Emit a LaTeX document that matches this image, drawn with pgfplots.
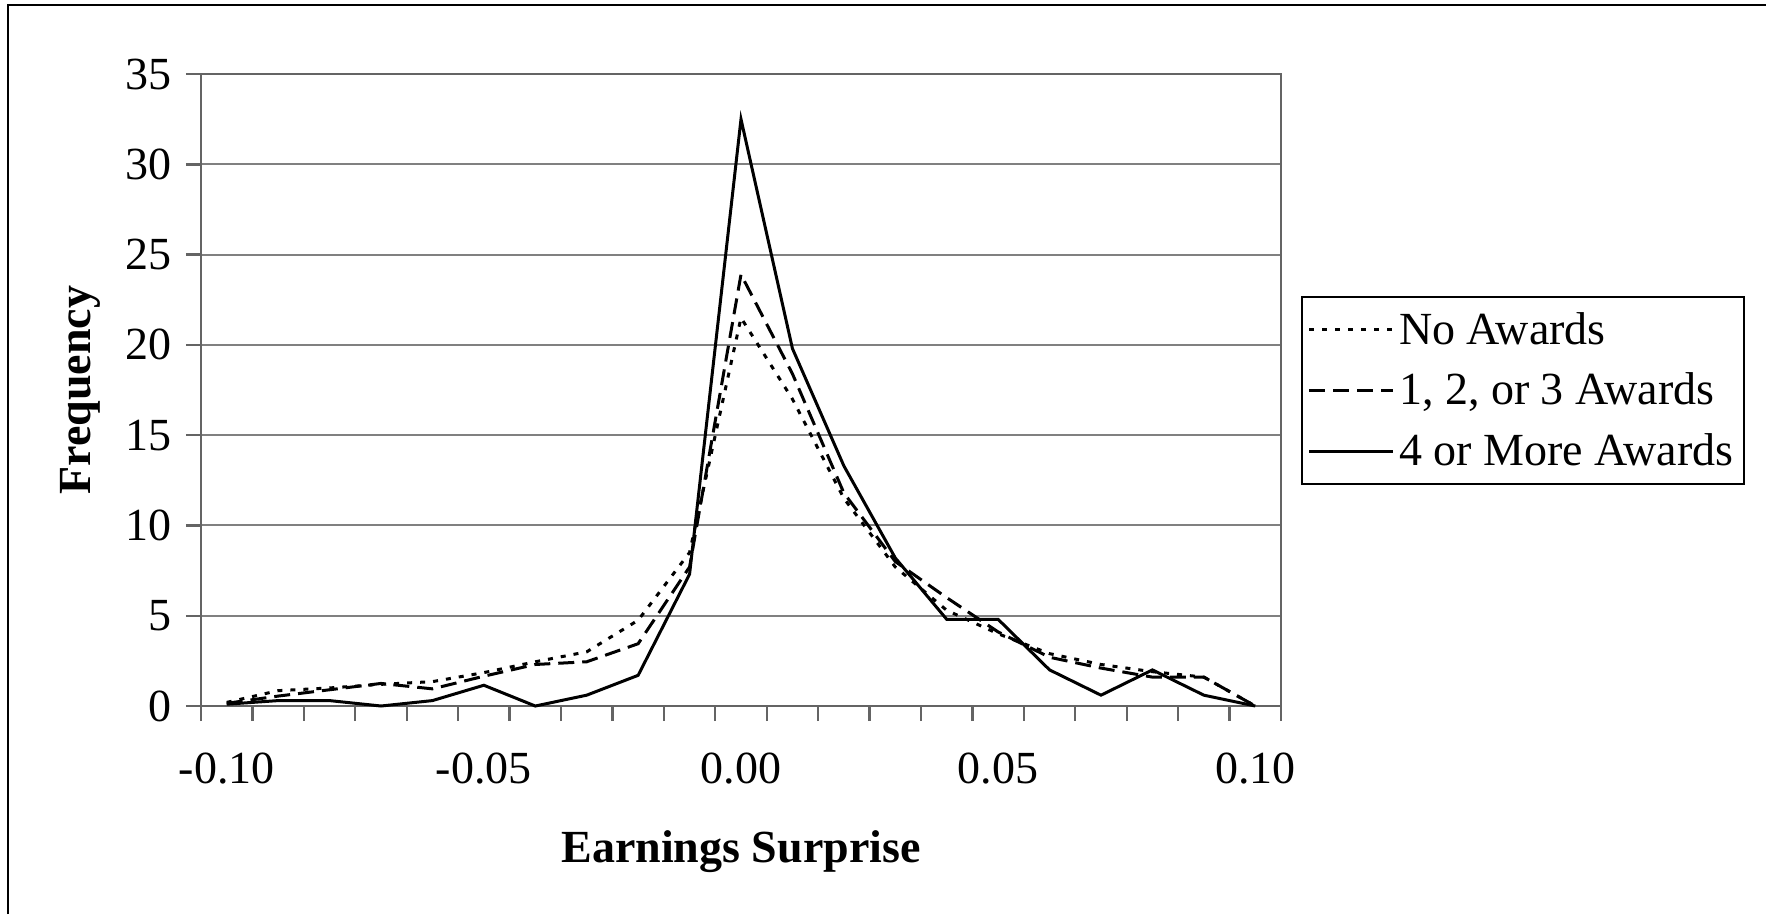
\documentclass[border=0pt]{standalone}
\usepackage{pgfplots}
\pgfplotsset{compat=1.18}
\usepackage{fontspec}
\setmainfont{Liberation Serif}
\newcommand\fsz{\fontsize{11.5}{13.8}\selectfont}
\definecolor{axisgray}{RGB}{100,100,100}
\definecolor{gridgray}{RGB}{128,128,128}

\begin{document}
\begin{tikzpicture}[font=\fsz]
\useasboundingbox (0,0) rectangle (441.5pt,228.5pt);
% chart area frame (only top and left edges fall inside the picture)
\draw[line width=0.5pt] (2pt,0) -- (2pt,227.25pt) -- (441.5pt,227.25pt);
\begin{axis}[
    at={(50.25pt,52pt)}, anchor=south west,
    scale only axis, width=270pt, height=158pt,
    xmin=-0.105, xmax=0.105, ymin=0, ymax=35,
    clip=false,
    axis line style={draw=axisgray, line width=0.6pt},
    tick pos=left, tick align=outside,
    major tick length=3.75pt, minor tick length=3.75pt,
    every tick/.style={draw=axisgray, line width=0.6pt},
    xtick={-0.10,-0.05,0,0.05,0.10},
    xticklabels={-0.10,-0.05,0.00,0.05,0.10},
    major x tick style={draw=none},
    minor xtick={-0.105,-0.095,-0.085,-0.075,-0.065,-0.055,-0.045,-0.035,-0.025,-0.015,-0.005,
                 0.005,0.015,0.025,0.035,0.045,0.055,0.065,0.075,0.085,0.095,0.105},
    ytick={0,5,...,35},
    ymajorgrids, major grid style={draw=gridgray, line width=0.5pt},
    /pgf/number format/assume math mode=true,
    tick label style={font=\fsz},
    xticklabel style={yshift=-4.5pt},
    xlabel={Earnings Surprise}, ylabel={Frequency},
    label style={font=\fsz\bfseries},
    xlabel style={at={(axis description cs:0.5,-0.230)}, anchor=center},
    ylabel style={at={(axis description cs:-0.112,0.5)}, anchor=center},
    legend style={at={(1.0185,0.6487)}, anchor=north west, draw=black,
        line width=0.4pt, font=\fsz, inner xsep=1.5pt, inner ysep=0.6pt,
        nodes={inner xsep=1.1pt, inner ysep=2.6pt, text height=0.86em, text depth=0.14em}},
    legend cell align=left,
    legend image code/.code={\draw[#1] (0pt,0pt) -- (21pt,0pt);},
]
\addplot[black, line width=0.75pt, dash pattern=on 1.25pt off 2pt] coordinates {
    (-0.10,0.2) (-0.09,0.85) (-0.08,1.0) (-0.07,1.2) (-0.06,1.35) (-0.05,1.85)
    (-0.04,2.45) (-0.03,3.0) (-0.02,4.75) (-0.01,8.5) (0.00,21.5) (0.01,17.0)
    (0.02,11.5) (0.03,7.7) (0.04,5.3) (0.05,4.0) (0.06,2.9) (0.07,2.3)
    (0.08,1.9) (0.09,1.6) (0.10,0.0)};
\addplot[black, line width=0.75pt, dash pattern=on 4pt off 2pt] coordinates {
    (-0.10,0.15) (-0.09,0.55) (-0.08,0.9) (-0.07,1.25) (-0.06,0.95) (-0.05,1.65)
    (-0.04,2.3) (-0.03,2.45) (-0.02,3.45) (-0.01,7.7) (0.00,23.9) (0.01,18.4)
    (0.02,11.8) (0.03,8.0) (0.04,6.0) (0.05,4.1) (0.06,2.7) (0.07,2.1)
    (0.08,1.6) (0.09,1.6) (0.10,0.0)};
\addplot[black, line width=0.75pt] coordinates {
    (-0.10,0.1) (-0.09,0.3) (-0.08,0.3) (-0.07,0.0) (-0.06,0.3) (-0.05,1.15)
    (-0.04,0.0) (-0.03,0.6) (-0.02,1.7) (-0.01,7.3) (0.00,32.5) (0.01,19.8)
    (0.02,13.3) (0.03,8.2) (0.04,4.8) (0.05,4.8) (0.06,2.0) (0.07,0.6)
    (0.08,2.0) (0.09,0.6) (0.10,0.0)};
\legend{No Awards, {1, 2, or 3 Awards}, 4 or More Awards}
\end{axis}
\end{tikzpicture}
\end{document}
